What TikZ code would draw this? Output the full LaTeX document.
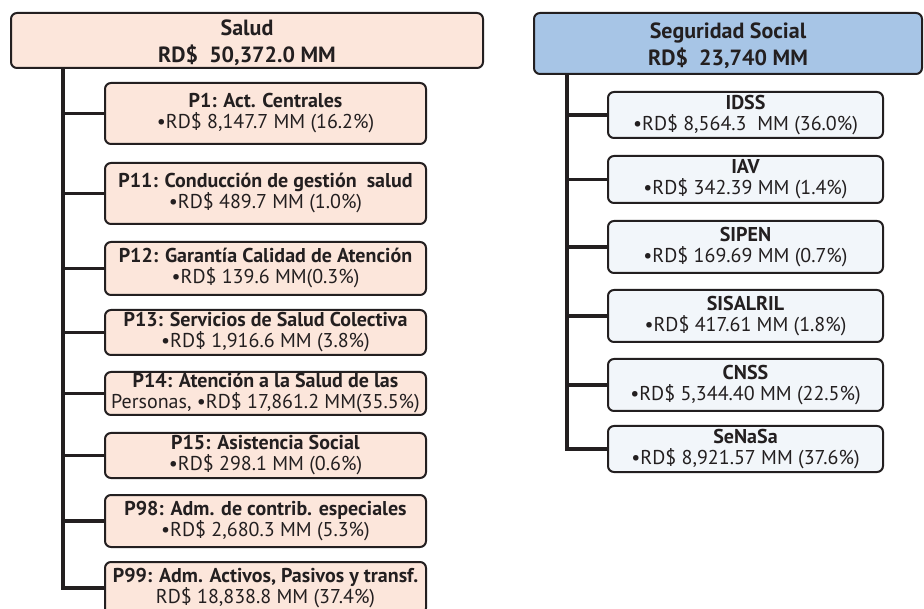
\documentclass[tikz,border=0pt]{standalone}
\usepackage{fontspec}
\setmainfont{PT Sans}
\definecolor{ink}{HTML}{231F20}
\definecolor{peach}{HTML}{FCE6DB}
\definecolor{hblue}{HTML}{A7C5E6}
\definecolor{lblue}{HTML}{F2F6FA}
\newcommand\hdline[1]{{\bfseries #1}}
\tikzset{
  basebox/.style={draw=ink, line width=2pt, rounded corners=6pt, inner sep=0pt, align=center, text=ink, font=\fontsize{20}{21}\selectfont},
  lbox/.style={basebox, fill=peach, minimum width=321pt},
  rbox/.style={basebox, fill=lblue, minimum width=275pt},
  conn/.style={draw=ink, line width=3.2pt},
  ttl/.style={text=ink, font=\fontsize{22}{27}\selectfont\bfseries, inner sep=0pt, anchor=base}
}
\begin{document}
\begin{tikzpicture}[x=1pt,y=-1pt]
\useasboundingbox (0,0) rectangle (924,609);
\begin{scope}
\clip (0,0) rectangle (924,609);
% Salud header
\node[basebox, fill=peach, minimum width=472pt, minimum height=55pt] (salud) at (247,40.5) {};
\node[ttl] (saludA) at (247,36) {Salud};
\node[ttl] (saludB) at (247,63) {RD\$\ \ 50,372.0 MM};
% Seguridad header
\node[basebox, fill=hblue, minimum width=388pt, minimum height=61pt] (segu) at (728,43.5) {};
\node[ttl] (seguA) at (728,39) {Seguridad Social};
\node[ttl] (seguB) at (728,66) {RD\$\ \ 23,740 MM};

% left children
\node[lbox, minimum height=61pt] (p1)  at (265.5,113.5) {\hdline{P1: Act. Centrales}\\•RD\$ 8,147.7 MM (16.2\%)};
\node[lbox, minimum height=61pt] (p11) at (265.5,193.5) {\hdline{P11: Conducción de gestión\ \ salud}\\•RD\$ 489.7 MM (1.0\%)};
\node[lbox, minimum height=53pt] (p12) at (265.5,268.5) {\hdline{P12: Garantía Calidad de Atención}\\•RD\$ 139.6 MM(0.3\%)};
\node[lbox, minimum height=45pt] (p13) at (265.5,332.5) {\hdline{P13: Servicios de Salud Colectiva}\\•RD\$ 1,916.6 MM (3.8\%)};
\node[lbox, minimum height=43pt] (p14) at (265.5,393.5) {\hdline{P14: Atención a la Salud de las}\\Personas, •RD\$ 17,861.2 MM(35.5\%)};
\node[lbox, minimum height=45pt] (p15) at (265.5,455.5) {\hdline{P15: Asistencia Social}\\•RD\$ 298.1 MM (0.6\%)};
\node[lbox, minimum height=52pt] (p98) at (265.5,521) {\hdline{P98: Adm. de contrib. especiales}\\•RD\$ 2,680.3 MM (5.3\%)};
\node[lbox, minimum height=52pt] (p99) at (265.5,588) {\hdline{P99: Adm. Activos, Pasivos y transf.}\\RD\$ 18,838.8 MM (37.4\%)};

% right children
\node[rbox, minimum height=46pt] (idss)  at (745.5,115) {\hdline{IDSS}\\•RD\$ 8,564.3\ \ MM (36.0\%)};
\node[rbox, minimum height=47pt] (iav)   at (745.5,179.5) {\hdline{IAV}\\•RD\$ 342.39 MM (1.4\%)};
\node[rbox, minimum height=52pt] (sipen) at (745.5,247) {\hdline{SIPEN}\\•RD\$ 169.69 MM (0.7\%)};
\node[rbox, minimum height=52pt] (sisa)  at (745.5,316) {\hdline{SISALRIL}\\•RD\$ 417.61 MM (1.8\%)};
\node[rbox, minimum height=52pt] (cnss)  at (745.5,385) {\hdline{CNSS}\\•RD\$ 5,344.40 MM (22.5\%)};
\node[rbox, minimum height=46pt] (senasa) at (745.5,449) {\hdline{SeNaSa}\\•RD\$ 8,921.57 MM (37.6\%)};

% left connectors
\coordinate (ltrunk) at (63,68);
\draw[conn] (ltrunk) |- (p99.west);
\foreach \n in {p1,p11,p12,p13,p14,p15,p98}
  \draw[conn] (ltrunk |- \n.west) -- (\n.west);
% right connectors
\coordinate (rtrunk) at (567,74);
\draw[conn] (rtrunk) |- (senasa.west);
\foreach \n in {idss,iav,sipen,sisa,cnss}
  \draw[conn] (rtrunk |- \n.west) -- (\n.west);
\end{scope}
\end{tikzpicture}
\end{document}
